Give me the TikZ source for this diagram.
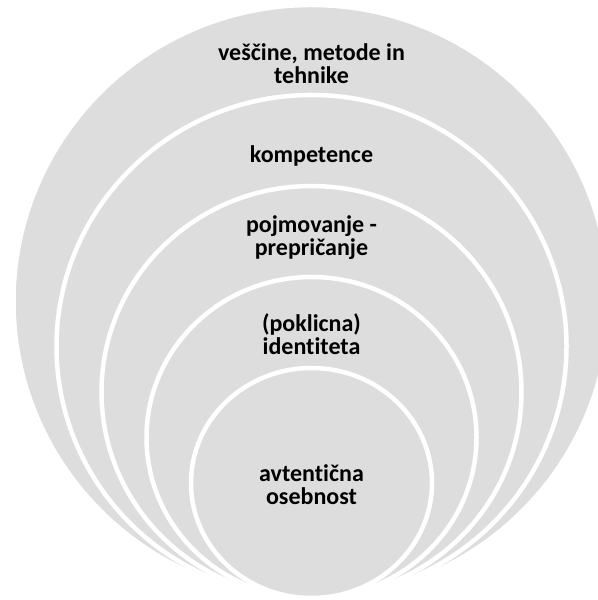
\documentclass[tikz,border=0pt]{standalone}
\usepackage{fontspec}
\setmainfont{Carlito}[Ligatures=NoCommon, RawFeature={-calt}]
\definecolor{ringfill}{RGB}{221,221,221}
\begin{document}
\begin{tikzpicture}[x=1bp,y=1bp,
  ring/.style={fill=ringfill, draw=white, line width=4.5bp},
  label/.style={font=\fontsize{24bp}{23bp}\selectfont\bfseries, align=center,
                text=black, inner sep=0pt, anchor=base}]
\useasboundingbox (0,0) rectangle (598,600);
\clip (0,0) rectangle (598,600);
% nested layers, all touching at the bottom
\path[ring] (311.5,298.5) ellipse [x radius=298,   y radius=296.5];
\path[ring] (311.5,253.5) ellipse [x radius=255,   y radius=251.5];
\path[ring] (311.5,208)   ellipse [x radius=210,   y radius=206];
\path[ring] (311.5,162.5) ellipse [x radius=165,   y radius=160.5];
\path[ring] (311.5,117)   ellipse [x radius=120.5, y radius=115];
% layer labels (base = baseline of the last line)
\node[label] (skills)    at (311.5,516) {veščine, metode in\\tehnike};
\node[label] (compet)    at (311.5,437) {kompetence};
\node[label] (concept)   at (311.5,344) {pojmovanje -\\prepričanje};
\node[label] (identity)  at (311.5,245) {(poklicna)\\identiteta};
\node[label] (self)      at (311.5,95)  {avtentična\\osebnost};
\end{tikzpicture}
\end{document}
